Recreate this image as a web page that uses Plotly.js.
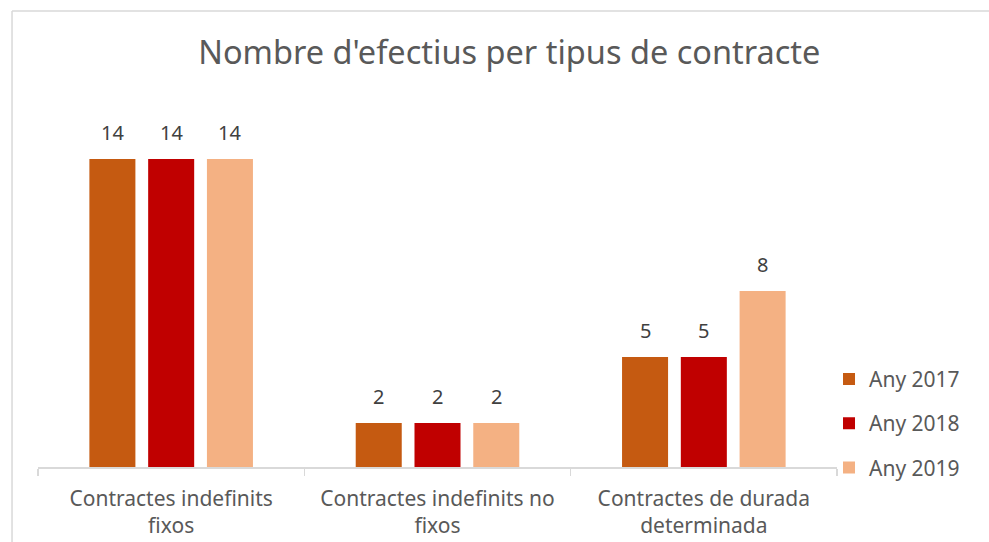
<!DOCTYPE html>
<html>
<head>
<meta charset="utf-8">
<script src="https://cdn.plot.ly/plotly-3.0.1.min.js"></script>
<style>html,body{margin:0;padding:0;background:#fff;}#chart{width:989px;height:542px;}</style>
</head>
<body>
<div id="chart"></div>
<script>
const categories = ["Contractes indefinits<br>fixos", "Contractes indefinits no<br>fixos", "Contractes de durada<br>determinada"];
const seriesNames = ["Any 2017", "Any 2018", "Any 2019"];
const values2017 = [14, 2, 5];
const values2018 = [14, 2, 5];
const values2019 = [14, 2, 8];
const colors = ["#C55A11", "#C00000", "#F4B183"];
const allValues = [values2017, values2018, values2019];

const FONT = "Noto Sans, sans-serif";
const GREY = "#595959";

const traces = allValues.map((vals, i) => ({
  type: "bar",
  name: seriesNames[i],
  x: categories,
  y: vals,
  marker: {color: colors[i]},
  legendgroup: "g" + i,
  hoverinfo: "none"
}));

const offsets = [-1, 0, 1];
const annotations = [];
allValues.forEach((vals, i) => {
  vals.forEach((v, j) => {
    annotations.push({
      x: j, y: v, xref: "x", yref: "y",
      text: String(v), showarrow: false,
      xshift: offsets[i] * 58.8, yshift: 11, yanchor: "bottom",
      font: {family: FONT, size: 20, color: "#404040"}
    });
  });
});

const layout = {
  width: 989, height: 542,
  margin: {l: 38, r: 152, t: 100, b: 75},
  paper_bgcolor: "#ffffff", plot_bgcolor: "#ffffff",
  title: {text: "Nombre d'efectius per tipus de contracte", x: 0.515, xanchor: "center", y: 0.903, yanchor: "middle",
          font: {family: FONT, size: 32.5, color: GREY}},
  barmode: "group", bargap: 0.338, bargroupgap: 0.217,
  xaxis: {
    type: "category", showline: true, linecolor: "#d9d9d9", linewidth: 1.5,
    ticks: "outside", tickson: "boundaries", ticklen: 7, tickcolor: "#d9d9d9", tickwidth: 1.5,
    ticklabelstandoff: 12,
    tickfont: {family: FONT, size: 21, color: GREY}, showgrid: false, zeroline: false, fixedrange: true
  },
  yaxis: {range: [0, 16.68], visible: false, showgrid: false, zeroline: false, fixedrange: true},
  showlegend: true,
  legend: {x: 0.99, xanchor: "left", y: 0.295, yanchor: "top", tracegroupgap: 14,
           font: {family: FONT, size: 21, color: GREY}, bgcolor: "rgba(0,0,0,0)"},
  annotations: annotations,
  shapes: [
    {type: "line", xref: "paper", yref: "paper", x0: -0.0325, x1: -0.0325, y0: 1.2425, y1: -0.21, line: {color: "#d9d9d9", width: 1.5}},
    {type: "line", xref: "paper", yref: "paper", x0: -0.0325, x1: 1.2, y0: 1.2425, y1: 1.2425, line: {color: "#d9d9d9", width: 1.5}}
  ]
};

Plotly.newPlot("chart", traces, layout, {displayModeBar: false, staticPlot: true});
</script>
</body>
</html>
